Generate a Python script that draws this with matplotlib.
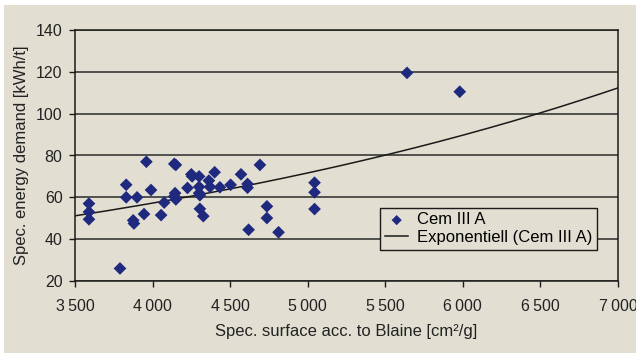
import numpy as np
import matplotlib.pyplot as plt
from matplotlib.patches import Rectangle
from matplotlib.ticker import FuncFormatter

# Cem III A: Blaine surface [cm2/g] vs. energy demand [kWh/t]
blaine = [3590, 3590, 3590, 3790, 3830, 3830, 3900, 3875, 3880, 3945,
          3960, 3990, 4055, 4075, 4140, 4150, 4145, 4140, 4150, 4225,
          4250, 4255, 4300, 4300, 4300, 4305, 4305, 4327, 4363, 4370,
          4400, 4434, 4503, 4570, 4612, 4612, 4619, 4692, 4737, 4737,
          4812, 5044, 5044, 5044, 5640, 5980]
energy = [57.0, 53.0, 49.5, 26.0, 66.0, 60.0, 60.0, 49.0, 47.5, 52.0,
          77.0, 63.5, 51.5, 57.5, 76.0, 75.5, 62.0, 60.5, 59.0, 64.5,
          71.0, 70.0, 70.0, 65.0, 62.0, 54.5, 61.0, 51.0, 68.0, 65.0,
          72.0, 64.8, 66.0, 71.0, 66.4, 64.6, 44.5, 75.5, 55.7, 50.1,
          43.3, 67.0, 62.4, 54.4, 119.5, 110.5]

# exponential trendline y = a * exp(b * x), coefficients
trend_a = 23.3
trend_b = 2.247e-4

x_ticks = [3500, 4000, 4500, 5000, 5500, 6000, 6500, 7000]
y_ticks = [20, 40, 60, 80, 100, 120, 140]

bg = '#e2dfd2'
navy = '#1f2a7f'
fs = 12

plt.rcParams['font.family'] = ['Liberation Sans', 'DejaVu Sans']

fig = plt.figure(figsize=(6.36, 3.53), dpi=100, facecolor='white')
fig.patches.append(Rectangle((4 / 636, 0), 1, 1 - 5 / 353, transform=fig.transFigure,
                             facecolor=bg, edgecolor='none', zorder=-10))
ax = fig.add_axes([75 / 636, 72 / 353, 543 / 636, 251 / 353])
ax.set_facecolor(bg)

xs = np.linspace(3500, 7000, 200)
ax.plot(xs, trend_a * np.exp(trend_b * xs), color='#1a1a1a', lw=1.1,
        label='Exponentiell (Cem III A)', zorder=3)
ax.scatter(blaine, energy, marker='D', s=42, color=navy, edgecolor='none',
           label='Cem III A', zorder=4)

ax.set_xlim(3500, 7000)
ax.set_ylim(20, 140)
ax.set_xticks(x_ticks)
ax.set_yticks(y_ticks)
ax.xaxis.set_major_formatter(FuncFormatter(lambda v, p: f"{int(v):,}".replace(',', '\u2009')))
ax.grid(axis='y', color='#2a2a2a', lw=1.1)
ax.set_axisbelow(True)
for s in ax.spines.values():
    s.set_color('#1a1a1a')
    s.set_linewidth(1.1)
ax.tick_params(direction='out', length=4, width=1, color='#1a1a1a',
               labelsize=11.5, labelcolor='#222222')
ax.tick_params(axis='x', pad=9)
ax.tick_params(axis='y', pad=5)

ax.set_xlabel('Spec. surface acc. to Blaine [cm²/g]', fontsize=fs, color='#222222', labelpad=7)
ax.set_ylabel('Spec. energy demand [kWh/t]', fontsize=fs, color='#222222', labelpad=5)

handles, labels = ax.get_legend_handles_labels()
leg = ax.legend(handles[::-1], labels[::-1], loc='lower left',
                bbox_to_anchor=(380 / 636, 103 / 353), bbox_transform=fig.transFigure,
                borderaxespad=0, fontsize=fs, frameon=True, fancybox=False,
                handlelength=1.4, handletextpad=0.5, borderpad=0.3, labelspacing=0.15,
                markerscale=0.8)
leg.get_frame().set_facecolor(bg)
leg.get_frame().set_edgecolor('#1a1a1a')
leg.get_frame().set_linewidth(1.0)
leg.get_frame().set_alpha(1)

fig.savefig('out.png', dpi=100, facecolor=fig.get_facecolor())
